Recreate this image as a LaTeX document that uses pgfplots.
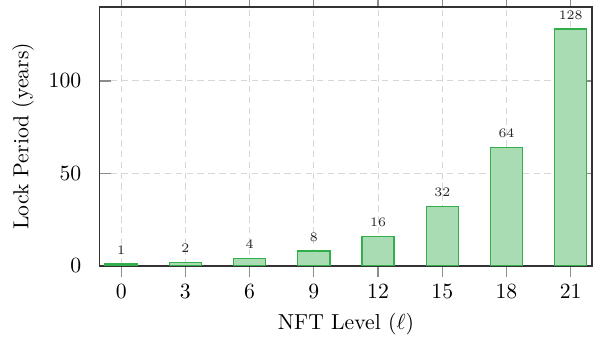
\documentclass[border=0pt]{standalone}
\usepackage{pgfplots}
\pgfplotsset{compat=1.18}
\definecolor{barfill}{RGB}{170,220,180}
\definecolor{bardraw}{RGB}{50,175,75}
\definecolor{gridc}{RGB}{215,215,215}
\definecolor{tickc}{RGB}{140,140,140}
\begin{document}
\begin{tikzpicture}
% grid only
\begin{axis}[
  scale only axis,
  width=227pt, height=119.4pt,
  xmin=-1, xmax=22, ymin=0, ymax=140,
  xtick={0,3,...,21}, ytick={0,50,100},
  xticklabels={}, yticklabels={},
  major tick length=0pt,
  axis line style={black!80, line width=0.6pt},
  grid=major,
  major grid style={gridc, dash pattern=on 3pt off 2pt, line width=0.5pt},
]
\end{axis}
% ticks, labels, bars
\begin{axis}[
  scale only axis,
  width=227pt, height=119.4pt,
  xmin=-1, xmax=22, ymin=0, ymax=140,
  xtick={0,3,...,21}, ytick={0,50,100},
  tick pos=both,
  xtick align=outside, ytick align=inside,
  major tick length=5pt,
  tick style={draw=tickc, line width=0.6pt, solid},
  major tick style={draw=tickc, line width=0.6pt, solid},
  axis line style={black!80, line width=0.6pt},
  grid=none,
  xlabel={NFT Level ($\ell$)},
  ylabel={Lock Period (years)},
  yticklabel style={xshift=-5pt},
  ybar, bar width=1.5,
  nodes near coords,
  every node near coord/.append style={font=\fontsize{6}{7}\selectfont, text=black!85, yshift=1pt},
]
\addplot[fill=barfill, draw=bardraw, line width=0.6pt] coordinates {
 (0,1) (3,2) (6,4) (9,8) (12,16) (15,32) (18,64) (21,128)};
\end{axis}
\pgfresetboundingbox
\path (current axis.south west) ++(-46pt,-37.3pt) coordinate (bl);
\path (current axis.north east) ++(6.4pt,3.2pt) coordinate (tr);
\useasboundingbox (bl) rectangle (tr);
\end{tikzpicture}
\end{document}
